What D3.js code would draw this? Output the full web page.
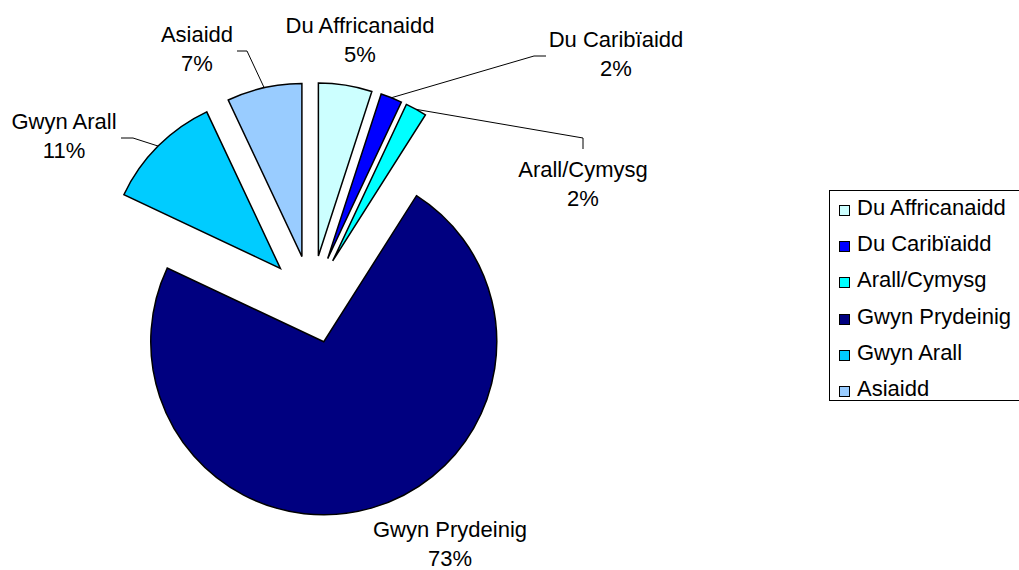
<!DOCTYPE html>
<html>
<head>
<meta charset="utf-8">
<script src="https://cdn.jsdelivr.net/npm/d3@7"></script>
<style>
  html, body { margin: 0; padding: 0; background: #fff; }
  svg { display: block; }
  text { font-family: "Liberation Sans", Arial, sans-serif; font-size: 22px; fill: #000; }
</style>
</head>
<body>
<svg id="chart" width="1019" height="570"></svg>
<script>
// ---- data ----
const categories = ["Du Affricanaidd", "Du Caribïaidd", "Arall/Cymysg", "Gwyn Prydeinig", "Gwyn Arall", "Asiaidd"];
const values = [5, 2, 2, 73, 11, 7];
const colors = ["#CCFFFF", "#0000FF", "#00FFFF", "#000080", "#00CCFF", "#99CCFF"];

// ---- layout (label placement, as positioned in the original) ----
const labelPos = [
  { x: 360, y: 33 },   // Du Affricanaidd
  { x: 616, y: 47 },   // Du Caribïaidd
  { x: 583, y: 177 },  // Arall/Cymysg
  { x: 450, y: 537 },  // Gwyn Prydeinig
  { x: 64,  y: 129 },  // Gwyn Arall
  { x: 197, y: 42 }    // Asiaidd
];
// leader line label-side anchor points (null = no leader)
const leaderStart = [
  null,
  [[546, 56], [534, 56]],
  [[583, 149], [583, 138]],
  null,
  [[121, 138], [133, 138]],
  [[237, 51], [247, 51]]
];

const cx = 311.5, cy = 299.5, radius = 173, explode = 44, lineGap = 28.5;

const svg = d3.select("#chart");
const pie = d3.pie().sort(null).value(d => d).startAngle(0).endAngle(2 * Math.PI);
const arcs = pie(values);
const arcGen = d3.arc().innerRadius(0).outerRadius(radius);

const g = svg.append("g").attr("transform", `translate(${cx},${cy})`);

g.selectAll("path.slice")
  .data(arcs)
  .join("path")
  .attr("class", "slice")
  .attr("d", arcGen)
  .attr("transform", d => {
    const m = (d.startAngle + d.endAngle) / 2;
    return `translate(${explode * Math.sin(m)},${-explode * Math.cos(m)})`;
  })
  .attr("fill", (d, i) => colors[i])
  .attr("stroke", "#000")
  .attr("stroke-width", 1.5)
  .attr("stroke-linejoin", "miter");

// leader lines
arcs.forEach((d, i) => {
  if (!leaderStart[i]) return;
  const m = (d.startAngle + d.endAngle) / 2;
  const ex = cx + (explode + radius) * Math.sin(m);
  const ey = cy - (explode + radius) * Math.cos(m);
  const pts = leaderStart[i].concat([[ex, ey]]);
  svg.append("path")
    .attr("d", d3.line()(pts))
    .attr("fill", "none")
    .attr("stroke", "#000")
    .attr("stroke-width", 1);
});

// data labels
const total = d3.sum(values);
arcs.forEach((d, i) => {
  const t = svg.append("text")
    .attr("text-anchor", "middle")
    .attr("x", labelPos[i].x)
    .attr("y", labelPos[i].y);
  t.append("tspan").attr("x", labelPos[i].x).text(categories[i]);
  t.append("tspan").attr("x", labelPos[i].x).attr("dy", lineGap)
    .text(Math.round(values[i] / total * 100) + "%");
});

// legend
const legend = svg.append("g").attr("class", "legend");
legend.append("rect")
  .attr("x", 829.5).attr("y", 190.5)
  .attr("width", 200).attr("height", 210)
  .attr("fill", "#fff").attr("stroke", "#000").attr("stroke-width", 1);
const rowH = 36.2;
categories.forEach((c, i) => {
  const yc = 209 + i * rowH;
  legend.append("rect")
    .attr("x", 839.5).attr("y", Math.round(yc - 4) + 0.5)
    .attr("width", 10).attr("height", 10)
    .attr("fill", colors[i]).attr("stroke", "#000").attr("stroke-width", 1);
  legend.append("text")
    .attr("x", 857).attr("y", yc + 6)
    .text(c);
});
</script>
</body>
</html>
